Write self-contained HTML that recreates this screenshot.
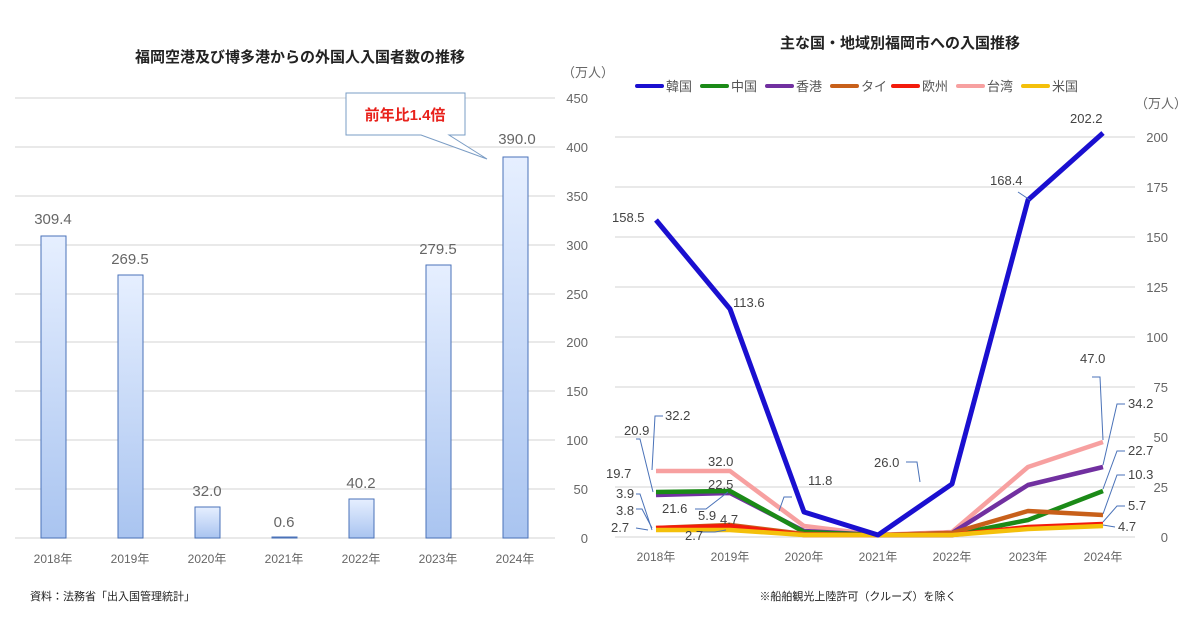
<!DOCTYPE html>
<html><head><meta charset="utf-8"><style>
body{margin:0;background:#fff;}
svg text{font-family:"Liberation Sans","Noto Sans CJK JP",sans-serif;}
</style></head><body>
<svg width="1200" height="630" xmlns="http://www.w3.org/2000/svg">
<defs>
<linearGradient id="bg" x1="0" y1="0" x2="0" y2="1"><stop offset="0" stop-color="#e6efff"/><stop offset="1" stop-color="#a9c4f0"/></linearGradient>
</defs>
<!-- LEFT -->
<text x="300" y="62" font-size="15" font-weight="bold" text-anchor="middle" fill="#222">福岡空港及び博多港からの外国人入国者数の推移</text>
<text x="562" y="77" font-size="13" fill="#666">（万人）</text>
<g stroke="#dcdcdc" stroke-width="1.2">
<line x1="15" y1="98" x2="555" y2="98"/><line x1="15" y1="147" x2="555" y2="147"/><line x1="15" y1="196" x2="555" y2="196"/><line x1="15" y1="245" x2="555" y2="245"/><line x1="15" y1="294" x2="555" y2="294"/><line x1="15" y1="342" x2="555" y2="342"/><line x1="15" y1="391" x2="555" y2="391"/><line x1="15" y1="440" x2="555" y2="440"/><line x1="15" y1="489" x2="555" y2="489"/><line x1="15" y1="538" x2="555" y2="538"/>
</g>
<g font-size="13" fill="#666" text-anchor="end">
<text x="588" y="103">450</text><text x="588" y="152">400</text><text x="588" y="201">350</text><text x="588" y="250">300</text><text x="588" y="299">250</text><text x="588" y="347">200</text><text x="588" y="396">150</text><text x="588" y="445">100</text><text x="588" y="494">50</text><text x="588" y="543">0</text>
</g>
<g fill="url(#bg)" stroke="#4a72b8" stroke-width="1">
<rect x="41" y="236" width="25" height="302"/><rect x="118" y="275" width="25" height="263"/><rect x="195" y="507" width="25" height="31"/><rect x="272" y="537" width="25" height="1"/><rect x="349" y="499" width="25" height="39"/><rect x="426" y="265" width="25" height="273"/><rect x="503" y="157" width="25" height="381"/>
</g>
<g font-size="15" fill="#666" text-anchor="middle">
<text x="53" y="224">309.4</text><text x="130" y="264">269.5</text><text x="207" y="496">32.0</text><text x="284" y="527">0.6</text><text x="361" y="488">40.2</text><text x="438" y="254">279.5</text><text x="517" y="144">390.0</text>
</g>
<g font-size="12" fill="#666" text-anchor="middle">
<text x="53" y="563">2018年</text><text x="130" y="563">2019年</text><text x="207" y="563">2020年</text><text x="284" y="563">2021年</text><text x="361" y="563">2022年</text><text x="438" y="563">2023年</text><text x="515" y="563">2024年</text>
</g>
<path d="M346,93 H465 V135 H449 L487,159 L421,135 H346 Z" fill="#fff" stroke="#7a9cc4" stroke-width="1"/>
<text x="405" y="120" font-size="15" font-weight="bold" fill="#e8211b" text-anchor="middle">前年比1.4倍</text>
<text x="30" y="600" font-size="11" fill="#222">資料：法務省「出入国管理統計」</text>

<!-- RIGHT -->
<text x="900" y="48" font-size="15" font-weight="bold" text-anchor="middle" fill="#222">主な国・地域別福岡市への入国推移</text>
<g font-size="13" fill="#555" stroke-linecap="round">
<line x1="637" y1="86" x2="662" y2="86" stroke="#1a0fd0" stroke-width="4"/><text x="666" y="91">韓国</text>
<line x1="702" y1="86" x2="727" y2="86" stroke="#1b8a17" stroke-width="4"/><text x="731" y="91">中国</text>
<line x1="767" y1="86" x2="792" y2="86" stroke="#7130a0" stroke-width="4"/><text x="796" y="91">香港</text>
<line x1="832" y1="86" x2="857" y2="86" stroke="#c8601a" stroke-width="4"/><text x="861" y="91">タイ</text>
<line x1="893" y1="86" x2="918" y2="86" stroke="#f31b0c" stroke-width="4"/><text x="922" y="91">欧州</text>
<line x1="958" y1="86" x2="983" y2="86" stroke="#f7a0a0" stroke-width="4"/><text x="987" y="91">台湾</text>
<line x1="1023" y1="86" x2="1048" y2="86" stroke="#f4c00a" stroke-width="4"/><text x="1052" y="91">米国</text>
</g>
<text x="1135" y="108" font-size="13" fill="#666">（万人）</text>
<g stroke="#dcdcdc" stroke-width="1.2">
<line x1="615" y1="137" x2="1135" y2="137"/><line x1="615" y1="187" x2="1135" y2="187"/><line x1="615" y1="237" x2="1135" y2="237"/><line x1="615" y1="287" x2="1135" y2="287"/><line x1="615" y1="337" x2="1135" y2="337"/><line x1="615" y1="387" x2="1135" y2="387"/><line x1="615" y1="437" x2="1135" y2="437"/><line x1="615" y1="487" x2="1135" y2="487"/><line x1="615" y1="537" x2="1135" y2="537"/>
</g>
<g font-size="13" fill="#666" text-anchor="end">
<text x="1168" y="142">200</text><text x="1168" y="192">175</text><text x="1168" y="242">150</text><text x="1168" y="292">125</text><text x="1168" y="342">100</text><text x="1168" y="392">75</text><text x="1168" y="442">50</text><text x="1168" y="492">25</text><text x="1168" y="542">0</text>
</g>
<g fill="none" stroke-width="4.5" stroke-linejoin="round">
<polyline stroke="#f7a0a0" points="656,471 730,471 804,526 878,535 952,532 1028,467 1103,442"/>
<polyline stroke="#7130a0" points="656,495 730,493 804,531 878,535 952,533 1028,485 1103,467"/>
<polyline stroke="#1b8a17" points="656,492 730,491 804,532 878,535 952,535 1028,520 1103,491"/>
<polyline stroke="#c8601a" points="656,528 730,525 804,534 878,535 952,533 1028,511 1103,515"/>
<polyline stroke="#f31b0c" points="656,528 730,526 804,535 878,535 952,535 1028,527 1103,524"/>
<polyline stroke="#f4c00a" points="656,530 730,530 804,535 878,535 952,535 1028,529 1103,526"/>
<polyline stroke="#1a0fd0" stroke-width="5" points="656,220 730,309 804,512 878,535 952,484 1028,200 1103,133"/>
</g>
<g stroke="#4a72b8" stroke-width="1" fill="none">
<polyline points="663,416 655,416 652,470"/>
<polyline points="636,439 640,439 653,492"/>
<polyline points="636,494 640,494 652,530"/>
<polyline points="636,509 642,509 652,528"/>
<polyline points="636,528 648,530"/>
<polyline points="695,509 706,509 728,492"/>
<polyline points="700,532 715,532 726,530"/>
<polyline points="792,497 784,497 779,511"/>
<polyline points="906,462 917,462 920,482"/>
<polyline points="1092,377 1100,377 1103,440"/>
<polyline points="1125,404 1117,404 1103,465"/>
<polyline points="1125,451 1117,451 1103,489"/>
<polyline points="1125,475 1117,475 1103,514"/>
<polyline points="1125,506 1117,506 1103,522"/>
<polyline points="1115,527 1103,525"/>
<polyline points="1018,192 1030,200"/>
</g>
<g font-size="13" fill="#444">
<text x="612" y="222">158.5</text>
<text x="733" y="307">113.6</text>
<text x="808" y="485">11.8</text>
<text x="874" y="467">26.0</text>
<text x="990" y="185">168.4</text>
<text x="1070" y="123">202.2</text>
<text x="665" y="420">32.2</text>
<text x="624" y="435">20.9</text>
<text x="606" y="478">19.7</text>
<text x="616" y="498">3.9</text>
<text x="616" y="515">3.8</text>
<text x="611" y="532">2.7</text>
<text x="708" y="466">32.0</text>
<text x="708" y="489">22.5</text>
<text x="662" y="513">21.6</text>
<text x="698" y="520">5.9</text>
<text x="720" y="524">4.7</text>
<text x="685" y="540">2.7</text>
<text x="1080" y="363">47.0</text>
<text x="1128" y="408">34.2</text>
<text x="1128" y="455">22.7</text>
<text x="1128" y="479">10.3</text>
<text x="1128" y="510">5.7</text>
<text x="1118" y="531">4.7</text>
</g>
<g font-size="12" fill="#666" text-anchor="middle">
<text x="656" y="561">2018年</text><text x="730" y="561">2019年</text><text x="804" y="561">2020年</text><text x="878" y="561">2021年</text><text x="952" y="561">2022年</text><text x="1028" y="561">2023年</text><text x="1103" y="561">2024年</text>
</g>
<text x="858" y="600" font-size="11" fill="#222" text-anchor="middle">※船舶観光上陸許可（クルーズ）を除く</text>
</svg>
</body></html>
